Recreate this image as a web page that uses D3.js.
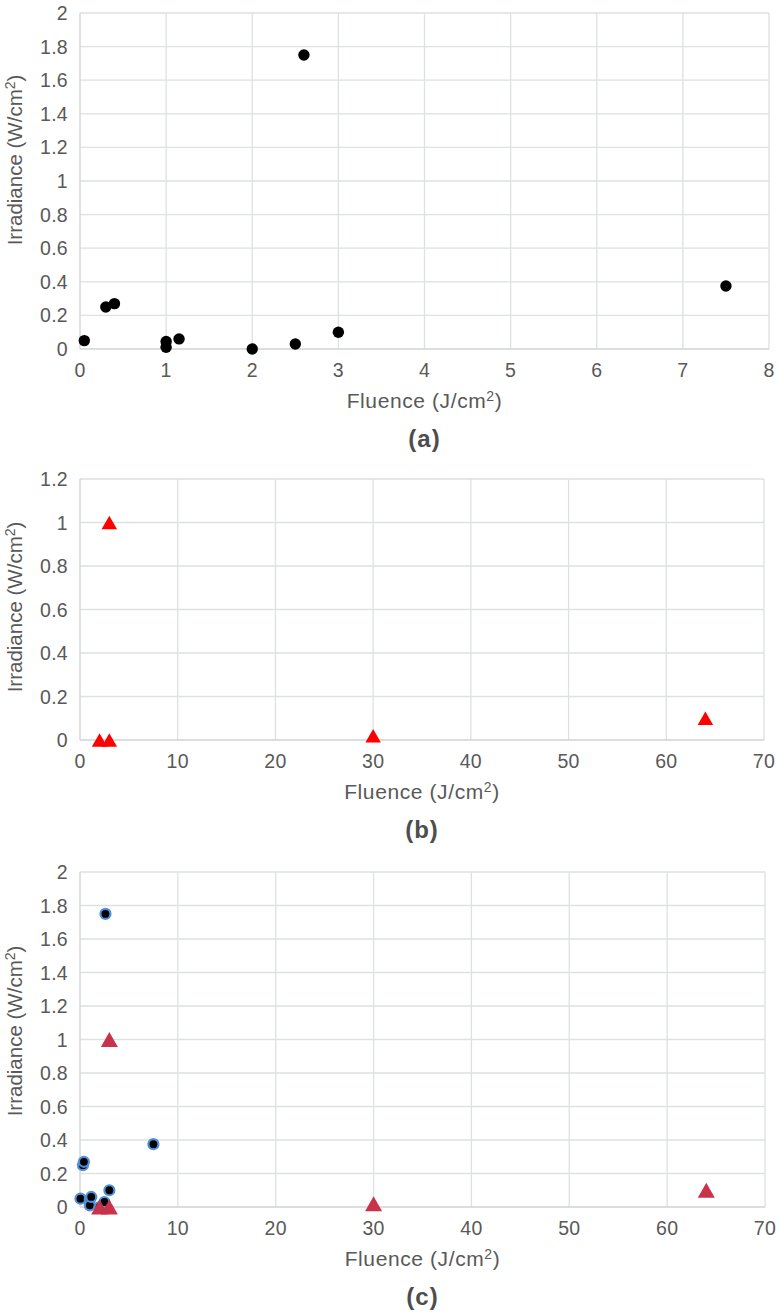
<!DOCTYPE html>
<html>
<head>
<meta charset="utf-8">
<script src="https://cdn.jsdelivr.net/npm/d3@7"></script>
<style>
  body { margin: 0; background: #fff; }
  svg text { font-family: "Liberation Sans", Arial, sans-serif; fill: #595959; }
</style>
</head>
<body>
<svg id="chart" width="780" height="1314"></svg>
<script>
// Circle series (panels a and c)
var circleFluence    = [0.05, 0.3, 0.4, 1, 1, 1.15, 2, 2.5, 2.6, 3, 7.5];
var circleIrradiance = [0.05, 0.25, 0.27, 0.045, 0.01, 0.06, 0, 0.03, 1.75, 0.1, 0.375];

// Triangle series (panels b and c)
var triangleFluence    = [3, 2, 3, 30, 64];
var triangleIrradiance = [1.0, 0, 0, 0.02, 0.1];

// Axis ticks
var xTicksA = [0, 1, 2, 3, 4, 5, 6, 7, 8];
var xTicksBC = [0, 10, 20, 30, 40, 50, 60, 70];
var yTicksAC = [0, 0.2, 0.4, 0.6, 0.8, 1, 1.2, 1.4, 1.6, 1.8, 2];
var yTicksB = [0, 0.2, 0.4, 0.6, 0.8, 1, 1.2];

var panelLabels = ["(a)", "(b)", "(c)"];

var svg = d3.select("#chart");

function fmt(d){ return String(+d.toFixed(1)); }

function zip(xs, ys){
  return xs.map(function(x, i){ return {x: x, y: ys[i]}; });
}

function drawPanel(opt){
  var g = svg.append("g");
  var x = d3.scaleLinear().domain([opt.xTicks[0], opt.xTicks[opt.xTicks.length-1]])
    .range([opt.left, opt.right]);
  var y = d3.scaleLinear().domain([opt.yTicks[0], opt.yTicks[opt.yTicks.length-1]])
    .range([opt.bottom, opt.top]);

  // grid
  g.selectAll("line.vgrid").data(opt.xTicks.slice(1)).enter()
    .append("line")
    .attr("x1", function(d){return x(d)}).attr("x2", function(d){return x(d)})
    .attr("y1", opt.top).attr("y2", opt.bottom)
    .attr("stroke", "#dde1e1").attr("stroke-width", 1.3);
  g.selectAll("line.hgrid").data(opt.yTicks.slice(1)).enter()
    .append("line")
    .attr("x1", opt.left).attr("x2", opt.right)
    .attr("y1", function(d){return y(d)}).attr("y2", function(d){return y(d)})
    .attr("stroke", "#dde1e1").attr("stroke-width", 1.3);
  // axis lines
  g.append("line").attr("x1", opt.left).attr("x2", opt.left)
    .attr("y1", opt.top).attr("y2", opt.bottom)
    .attr("stroke", "#cfd3d3").attr("stroke-width", 1.3);
  g.append("line").attr("x1", opt.left).attr("x2", opt.right)
    .attr("y1", opt.bottom).attr("y2", opt.bottom)
    .attr("stroke", "#cfd3d3").attr("stroke-width", 1.5);

  // tick labels
  g.selectAll("text.xt").data(opt.xTicks).enter()
    .append("text")
    .attr("x", function(d){return x(d)})
    .attr("y", opt.bottom + 28)
    .attr("text-anchor", "middle")
    .style("font-size", "19.5px")
    .style("letter-spacing", "0.3px")
    .text(fmt);
  g.selectAll("text.yt").data(opt.yTicks).enter()
    .append("text")
    .attr("x", opt.left - 12)
    .attr("y", function(d){return y(d)})
    .attr("dy", "0.36em")
    .attr("text-anchor", "end")
    .style("font-size", "19.5px")
    .style("letter-spacing", "0.3px")
    .text(fmt);

  // axis titles
  var xt = g.append("text")
    .attr("x", (opt.left + opt.right)/2)
    .attr("y", opt.bottom + 59)
    .attr("text-anchor", "middle")
    .style("font-size", "21px")
    .style("letter-spacing", "0.6px");
  xt.append("tspan").text("Fluence (J/cm");
  xt.append("tspan").attr("dy", -7).style("font-size", "14px").text("2");
  xt.append("tspan").attr("dy", 7).text(")");

  var yt = g.append("text")
    .attr("transform", "translate(" + (opt.left - 58) + "," + opt.yTitle + ") rotate(-90)")
    .attr("text-anchor", "middle")
    .style("font-size", "20.5px");
  yt.append("tspan").text("Irradiance (W/cm");
  yt.append("tspan").attr("dy", -7).style("font-size", "14px").text("2");
  yt.append("tspan").attr("dy", 7).text(")");

  g.append("text")
    .attr("x", (opt.left + opt.right)/2)
    .attr("y", opt.bottom + 98)
    .attr("text-anchor", "middle")
    .style("font-size", "24px").style("font-weight", "bold")
    .style("letter-spacing", "1px")
    .style("fill", "#4d4d4d")
    .text(opt.label);

  // markers
  if(opt.circles){
    g.selectAll("circle.pt").data(zip(circleFluence, circleIrradiance)).enter()
      .append("circle")
      .attr("cx", function(d){return x(d.x)})
      .attr("cy", function(d){return y(d.y)})
      .attr("r", opt.circleR)
      .attr("fill", "#000")
      .attr("stroke", opt.circleStroke || "none")
      .attr("stroke-width", opt.circleStroke ? 2.2 : 0);
  }
  if(opt.triangles){
    var w = opt.triW, h = opt.triH;
    g.selectAll("path.tri").data(zip(triangleFluence, triangleIrradiance)).enter()
      .append("path")
      .attr("d", function(d){
        var cx = x(d.x), cy = y(d.y);
        return "M" + cx + "," + (cy - h/2) + "L" + (cx + w/2) + "," + (cy + h/2)
          + "L" + (cx - w/2) + "," + (cy + h/2) + "Z";
      })
      .attr("fill", opt.triColour);
  }
}

drawPanel({left: 80, right: 769, top: 13, bottom: 349, yTitle: 160,
  xTicks: xTicksA, yTicks: yTicksAC, label: panelLabels[0],
  circles: true, circleR: 5.7});

drawPanel({left: 80, right: 764, top: 479, bottom: 740, yTitle: 607,
  xTicks: xTicksBC, yTicks: yTicksB, label: panelLabels[1],
  triangles: true, triW: 15.5, triH: 13.5, triColour: "#ff0000"});

drawPanel({left: 80, right: 765, top: 872, bottom: 1207, yTitle: 1031,
  xTicks: xTicksBC, yTicks: yTicksAC, label: panelLabels[2],
  circles: true, circleR: 5, circleStroke: "#4e90dc",
  triangles: true, triW: 17, triH: 15, triColour: "#c8324a"});
</script>
</body>
</html>
